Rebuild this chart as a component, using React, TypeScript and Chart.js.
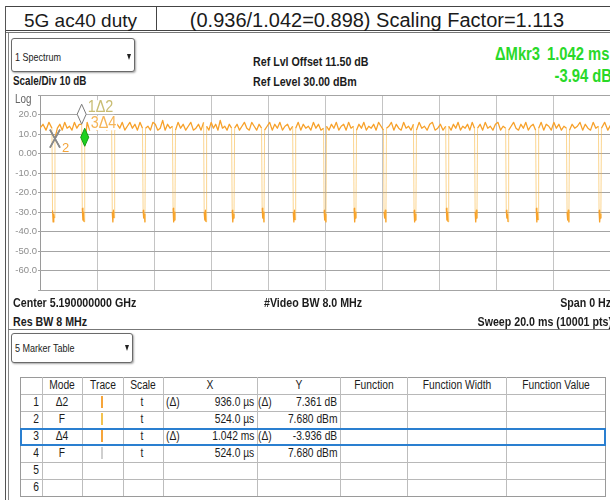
import React, { useEffect, useRef } from "react";
import { Chart, registerables } from "chart.js";

Chart.register(...registerables);

const SANS = "'Liberation Sans', Arial, sans-serif";
const NARROW = SANS; // condensed via scaleX
const CONDENSE = 0.82;

// ---------- axes ----------
const sweepMs = [0, 20];
const levelRange = [-70, 30];
const xGridMs = [0, 2, 4, 6, 8, 10, 12, 14, 16, 18, 20];
const yTickValues = [30, 20, 10, 0, -10, -20, -30, -40, -50, -60, -70];
const yTickLabels = ["Log", "20.0", "10.0", "0.00", "-10.0", "-20.0", "-30.0", "-40.0", "-50.0", "-60.0", ""];

// ---------- trace ----------
const offStartsMs = [0.418, 1.46, 2.51, 3.59, 4.64, 5.73, 6.71, 7.76, 8.85, 9.93, 10.98, 12.03, 13.08, 14.21, 15.22, 16.31, 17.36, 18.44, 19.56];
const offDurationMs = 0.106;
const dipFloors = [
  [-29, -35, -31, -33], [-28, -34, -30, -35], [-30, -35, -29, -33], [-29, -33, -31, -35],
  [-28, -35, -30, -34], [-30, -34, -29, -35], [-29, -35, -31, -33], [-28, -33, -30, -35],
  [-30, -35, -29, -34], [-29, -34, -31, -35], [-28, -35, -30, -33], [-30, -33, -29, -35],
  [-29, -35, -31, -34], [-28, -34, -30, -35], [-30, -35, -29, -33], [-29, -33, -31, -35],
  [-28, -35, -30, -34], [-30, -34, -29, -35], [-29, -35, -31, -33],
];
const burstLevels = [
  [13, 15, 12, 16, 13],
  [8, 13, 15, 12, 16, 13, 14, 12, 16, 13, 15, 15],
  [4, 16, 12, 14, 17, 12, 15, 13, 16, 12, 14, 13],
  [12, 15, 13, 16, 12, 14, 16, 13, 15, 12, 16, 13],
  [13, 14, 12, 16, 15, 12, 13, 17, 12, 15, 13, 14],
  [12, 16, 13, 15, 12, 14, 16, 12, 13, 15, 12, 16],
  [14, 12, 16, 13, 15, 12, 17, 13, 14, 12, 15, 13],
  [13, 15, 12, 14, 16, 13, 12, 16, 14, 12, 15, 13],
  [12, 14, 16, 12, 15, 13, 16, 12, 14, 15, 12, 14],
  [13, 16, 12, 15, 13, 14, 12, 16, 13, 15, 12, 13],
  [14, 12, 15, 13, 16, 12, 14, 15, 12, 16, 13, 14],
  [12, 15, 13, 16, 12, 14, 13, 15, 12, 16, 14, 12],
  [13, 14, 16, 12, 15, 13, 12, 16, 13, 14, 12, 15],
  [12, 16, 13, 14, 12, 15, 16, 12, 13, 15, 12, 14],
  [14, 12, 15, 13, 16, 12, 14, 13, 15, 12, 16, 13],
  [13, 15, 12, 16, 13, 14, 12, 15, 16, 12, 14, 13],
  [12, 14, 16, 13, 12, 15, 13, 16, 12, 14, 15, 12],
  [13, 16, 12, 15, 14, 12, 16, 13, 15, 12, 14, 13],
  [12, 15, 13, 14, 16, 12, 15, 13, 12, 16, 13, 14],
  [13, 16, 12, 15],
];

// ---------- marker table ----------
const markerIds = ["1", "2", "3", "4", "5", "6"];
const markerModes = ["Δ2", "F", "Δ4", "F", "", ""];
const markerRefIndex = [1, -1, 3, -1, -1, -1];
const markerXValueMs = [0.936, 0.524, 1.042, 0.524, 0, 0];
const markerYValue = [7.361, 7.68, -3.936, 7.68, 0, 0];
const markerScale = ["t", "t", "t", "t", "", ""];
const markerXPrefix = ["(Δ)", "", "(Δ)", "", "", ""];
const markerXText = ["936.0 µs", "524.0 µs", "1.042 ms", "524.0 µs", "", ""];
const markerYPrefix = ["(Δ)", "", "(Δ)", "", "", ""];
const markerYText = ["7.361 dB", "7.680 dBm", "-3.936 dB", "7.680 dBm", "", ""];
const markerTraceColor = ["#f6a53a", "#f3c24f", "#f6a53a", "#cfcfcf", "", ""];
const activeMarker = 2; // index of marker 3
const tableHeaders = ["", "Mode", "Trace", "Scale", "X", "Y", "Function", "Function Width", "Function Value"];

function buildTrace() {
  const pts: { x: number; y: number }[] = [];
  for (let k = 0; k < burstLevels.length; k++) {
    const s = k === 0 ? sweepMs[0] : offStartsMs[k - 1] + offDurationMs;
    const e = k < offStartsMs.length ? offStartsMs[k] : sweepMs[1];
    const lv = burstLevels[k];
    lv.forEach((v, j) => pts.push({ x: s + ((e - s) * j) / (lv.length - 1), y: v }));
    if (k < offStartsMs.length) {
      const f = dipFloors[k];
      f.forEach((v, j) => pts.push({ x: e + (offDurationMs * (j + 1)) / (f.length + 1), y: v }));
    }
  }
  return pts;
}

function condensedText(ctx: any, text: string, x: number, y: number, sx: number, bg?: string) {
  ctx.save();
  ctx.translate(x, y);
  ctx.scale(sx, 1);
  if (bg) {
    const w = ctx.measureText(text).width;
    const fill = ctx.fillStyle;
    ctx.fillStyle = bg;
    ctx.fillRect(-1, -12, w + 2, 14);
    ctx.fillStyle = fill;
  }
  ctx.fillText(text, 0, 0);
  ctx.restore();
}

const markerPlugin = {
  id: "markers",
  afterDatasetsDraw(chart: any) {
    const { ctx } = chart;
    const xs = chart.scales.x;
    const ys = chart.scales.y;
    ctx.save();
    ctx.font = `12px ${SANS}`;
    ctx.fillStyle = "#666";
    ctx.textBaseline = "alphabetic";
    ctx.textAlign = "left";
    condensedText(ctx, yTickLabels[0], 15, ys.getPixelForValue(yTickValues[0]) + 8, CONDENSE);

    const seen: string[] = [];
    const order = [1, 3, 0, 2];
    for (const i of order) {
      const mode = markerModes[i];
      if (!mode) continue;
      const r = markerRefIndex[i];
      const t = markerXValueMs[i] + (r >= 0 ? markerXValueMs[r] : 0);
      const v = markerYValue[i] + (r >= 0 ? markerYValue[r] : 0);
      const px = xs.getPixelForValue(t);
      const py = ys.getPixelForValue(v);
      if (mode === "F") {
        ctx.strokeStyle = "#8a8a8a";
        ctx.lineWidth = 1.6;
        ctx.beginPath();
        ctx.moveTo(px - 5, py - 9);
        ctx.lineTo(px + 5, py + 9);
        ctx.moveTo(px + 5, py - 9);
        ctx.lineTo(px - 5, py + 9);
        ctx.stroke();
        const key = px.toFixed(1) + "," + py.toFixed(1);
        if (seen.indexOf(key) < 0) {
          seen.push(key);
          ctx.font = `13px ${SANS}`;
          ctx.fillStyle = "#f3a43a";
          ctx.fillText(markerIds[i], px + 7, py + 13);
        }
      } else {
        const active = i === activeMarker;
        ctx.font = `16px ${SANS}`;
        ctx.fillStyle = active ? "#f5b457" : "#c9bd73";
        condensedText(ctx, markerIds[i] + mode, px + 6, py - (active ? 18 : 12), 0.9, "#ffffff");
        const w = active ? 4 : 4.5;
        const h = active ? 18 : 20;
        ctx.beginPath();
        ctx.moveTo(px, py);
        ctx.lineTo(px + w, py - h / 2);
        ctx.lineTo(px, py - h);
        ctx.lineTo(px - w, py - h / 2);
        ctx.closePath();
        ctx.fillStyle = active ? "#1fd11f" : "#ffffff";
        ctx.fill();
        ctx.lineWidth = 1;
        ctx.strokeStyle = active ? "#159a15" : "#7a7a7a";
        ctx.stroke();
      }
    }
    ctx.restore();
  },
};

function Txt(props: any) {
  const { x, base, size, text, color = "#1c1c1c", bold = false, family = NARROW, align = "left", sx = CONDENSE } = props;
  const style: any = {
    position: "absolute",
    top: base - 0.85 * size,
    fontSize: size,
    lineHeight: `${size}px`,
    fontFamily: family,
    fontWeight: bold ? 700 : 400,
    color,
    whiteSpace: "pre",
  };
  if (align === "left") {
    style.left = x;
    style.transform = `scaleX(${sx})`;
    style.transformOrigin = "0 50%";
  } else if (align === "right") {
    style.right = 610 - x;
    style.transform = `scaleX(${sx})`;
    style.transformOrigin = "100% 50%";
  } else {
    style.left = x;
    style.transform = `translateX(-50%) scaleX(${sx})`;
    style.transformOrigin = "50% 50%";
  }
  return <div style={style}>{text}</div>;
}

function HLine(props: any) {
  const { x1, x2, y, color = "#888", w = 1 } = props;
  return <div style={{ position: "absolute", left: x1, top: y, width: x2 - x1, height: w, background: color }} />;
}
function VLine(props: any) {
  const { y1, y2, x, color = "#888", w = 1 } = props;
  return <div style={{ position: "absolute", left: x, top: y1, width: w, height: y2 - y1, background: color }} />;
}

function Dropdown(props: any) {
  const { x, y, w, h, text, base } = props;
  return (
    <>
      <div
        style={{
          position: "absolute",
          left: x,
          top: y,
          width: w,
          height: h,
          border: "1px solid #6a6a6a",
          borderRadius: 3,
          boxShadow: "1px 1px 2px rgba(0,0,0,0.35)",
          boxSizing: "border-box",
          background: "#fff",
        }}
      />
      <Txt x={x + 4} base={base} size={11} text={text} />
      <div
        style={{
          position: "absolute",
          left: x + w - 8,
          top: base - 7,
          width: 0,
          height: 0,
          borderLeft: "2px solid transparent",
          borderRight: "2px solid transparent",
          borderTop: "6px solid #222",
        }}
      />
    </>
  );
}

const colEdges = [20, 42, 82, 123, 163, 257, 340, 407, 506, 605];
const rowTop = 377;
const rowH = 17;

function MarkerTable() {
  const items: any[] = [];
  const nRows = markerIds.length + 1;
  for (let r = 0; r <= nRows; r++) {
    items.push(<HLine key={"h" + r} x1={colEdges[0]} x2={colEdges[colEdges.length - 1] + 1} y={rowTop + r * rowH} color={r === 0 || r === nRows ? "#9a9a9a" : "#b8b8b8"} />);
  }
  colEdges.forEach((cx, i) =>
    items.push(<VLine key={"v" + i} x={cx} y1={rowTop} y2={rowTop + nRows * rowH} color={i === 0 || i === colEdges.length - 1 ? "#9a9a9a" : "#bdbdbd"} />)
  );
  const hb = rowTop + 13;
  tableHeaders.forEach((h, i) => {
    if (!h) return;
    const cx = (colEdges[i] + colEdges[i + 1]) / 2;
    items.push(<Txt key={"th" + i} x={cx} base={hb} size={12.5} text={h} align="center" />);
  });
  markerIds.forEach((id, i) => {
    const b = rowTop + (i + 1) * rowH + 13;
    items.push(<Txt key={"id" + i} x={39} base={b} size={12.5} text={id} align="right" />);
    if (markerModes[i]) items.push(<Txt key={"m" + i} x={(colEdges[1] + colEdges[2]) / 2} base={b} size={12.5} text={markerModes[i]} align="center" />);
    if (markerTraceColor[i])
      items.push(<VLine key={"tc" + i} x={101} y1={b - 11} y2={b + 1} w={1.5} color={markerTraceColor[i]} />);
    if (markerScale[i]) items.push(<Txt key={"s" + i} x={142} base={b} size={12.5} text={markerScale[i]} align="center" />);
    if (markerXPrefix[i]) items.push(<Txt key={"xp" + i} x={166} base={b} size={12.5} text={markerXPrefix[i]} />);
    if (markerXText[i]) items.push(<Txt key={"xt" + i} x={254} base={b} size={12.5} text={markerXText[i]} align="right" />);
    if (markerYPrefix[i]) items.push(<Txt key={"yp" + i} x={258} base={b} size={12.5} text={markerYPrefix[i]} />);
    if (markerYText[i]) items.push(<Txt key={"yt" + i} x={337} base={b} size={12.5} text={markerYText[i]} align="right" />);
  });
  items.push(
    <div
      key="sel"
      style={{
        position: "absolute",
        left: colEdges[0],
        top: rowTop + (activeMarker + 1) * rowH,
        width: colEdges[colEdges.length - 1] - colEdges[0] + 1,
        height: rowH + 1,
        border: "2px solid #2a7fd0",
        boxSizing: "border-box",
      }}
    />
  );
  return <>{items}</>;
}

export default function App() {
  const canvasRef = useRef<HTMLCanvasElement>(null);

  useEffect(() => {
    const canvas = canvasRef.current;
    if (!canvas) return;
    const chart = new Chart(canvas, {
      type: "line",
      data: {
        datasets: [
          {
            data: buildTrace(),
            borderColor: "#f7a12a",
            borderWidth: 1.3,
            pointRadius: 0,
            tension: 0,
            borderJoinStyle: "round",
            fill: false,
            segment: {
              borderColor: (c: any) =>
                Math.abs(c.p0.parsed.y - c.p1.parsed.y) > 20 ? "rgba(248,185,70,0.6)" : undefined,
              borderWidth: (c: any) => (Math.abs(c.p0.parsed.y - c.p1.parsed.y) > 20 ? 1 : undefined),
            },
          } as any,
        ],
      },
      options: {
        responsive: false,
        animation: false,
        devicePixelRatio: 1,
        layout: { padding: { top: 10, bottom: 5, left: 0, right: 1 }, autoPadding: false } as any,
        plugins: { legend: { display: false }, tooltip: { enabled: false }, title: { display: false } },
        scales: {
          x: {
            type: "linear",
            min: sweepMs[0],
            max: sweepMs[1],
            afterBuildTicks: (s: any) => {
              s.ticks = xGridMs.map((v) => ({ value: v }));
            },
            ticks: { display: false },
            grid: {
              color: (c: any) => (c.tick && c.tick.value === sweepMs[0] ? "#9a9a9a" : "#c4c4c4"),
              drawTicks: false,
            },
            border: { display: false },
          },
          y: {
            type: "linear",
            min: levelRange[0],
            max: levelRange[1],
            afterBuildTicks: (s: any) => {
              s.ticks = yTickValues.map((v) => ({ value: v }));
            },
            afterFit: (s: any) => {
              s.width = 40;
            },
            ticks: {
              callback: (v: any) => {
                const i = yTickValues.indexOf(Number(v));
                return i <= 0 ? "" : yTickLabels[i];
              },
              color: "#8d8d8d",
              font: { family: SANS, size: 9.5 },
              padding: 1,
            },
            grid: { color: "#a4a4a4", tickLength: 2, drawTicks: true },
            border: { display: false },
          },
        },
      } as any,
      plugins: [markerPlugin],
    });
    return () => chart.destroy();
  }, []);

  return (
    <div style={{ position: "absolute", left: 0, top: 0, width: 610, height: 503, overflow: "hidden", background: "#fff" }}>
      <HLine x1={5} x2={612} y={6} color="#444" />
      <HLine x1={5} x2={612} y={30} color="#444" />
      <HLine x1={5} x2={612} y={32} color="#777" />
      <VLine x={5} y1={6} y2={500} color="#555" />
      <VLine x={8} y1={33} y2={500} color="#888" />
      <VLine x={156} y1={6} y2={31} color="#444" />
      <Txt x={80.5} base={27} size={19} family={SANS} sx={1} text="5G ac40 duty" align="center" color="#1a1a1a" />
      <Txt x={377} base={27} size={20} family={SANS} sx={1} text="(0.936/1.042=0.898) Scaling Factor=1.113" align="center" color="#1a1a1a" />

      <Dropdown x={11} y={38} w={124} h={34} text="1 Spectrum" base={61} />
      <Txt x={13} base={85} size={12} bold text="Scale/Div 10 dB" />
      <Txt x={253} base={66} size={13} bold text="Ref Lvl Offset 11.50 dB" />
      <Txt x={253} base={86} size={13} bold text="Ref Level 30.00 dBm" />
      <Txt x={495} base={60} size={18} bold text="ΔMkr3" color="#29d929" />
      <Txt x={547} base={60} size={18} bold text="1.042 ms" color="#29d929" />
      <Txt x={612} base={82} size={18} bold text="-3.94 dB" color="#29d929" align="right" />

      <canvas ref={canvasRef} width={612} height={212} style={{ position: "absolute", left: 0, top: 85, width: 612, height: 212 }} />

      <Txt x={13} base={307} size={13} bold text="Center 5.190000000 GHz" />
      <Txt x={264} base={307} size={13} bold text="#Video BW 8.0 MHz" />
      <Txt x={611} base={307} size={13} bold text="Span 0 Hz" align="right" />
      <Txt x={13} base={326} size={13} bold text="Res BW 8 MHz" />
      <Txt x={612} base={326} size={13} bold text="Sweep 20.0 ms (10001 pts)" align="right" />
      <HLine x1={8} x2={612} y={329} color="#777" />

      <Dropdown x={11} y={333} w={122} h={30} text="5 Marker Table" base={352} />
      <MarkerTable />
    </div>
  );
}
